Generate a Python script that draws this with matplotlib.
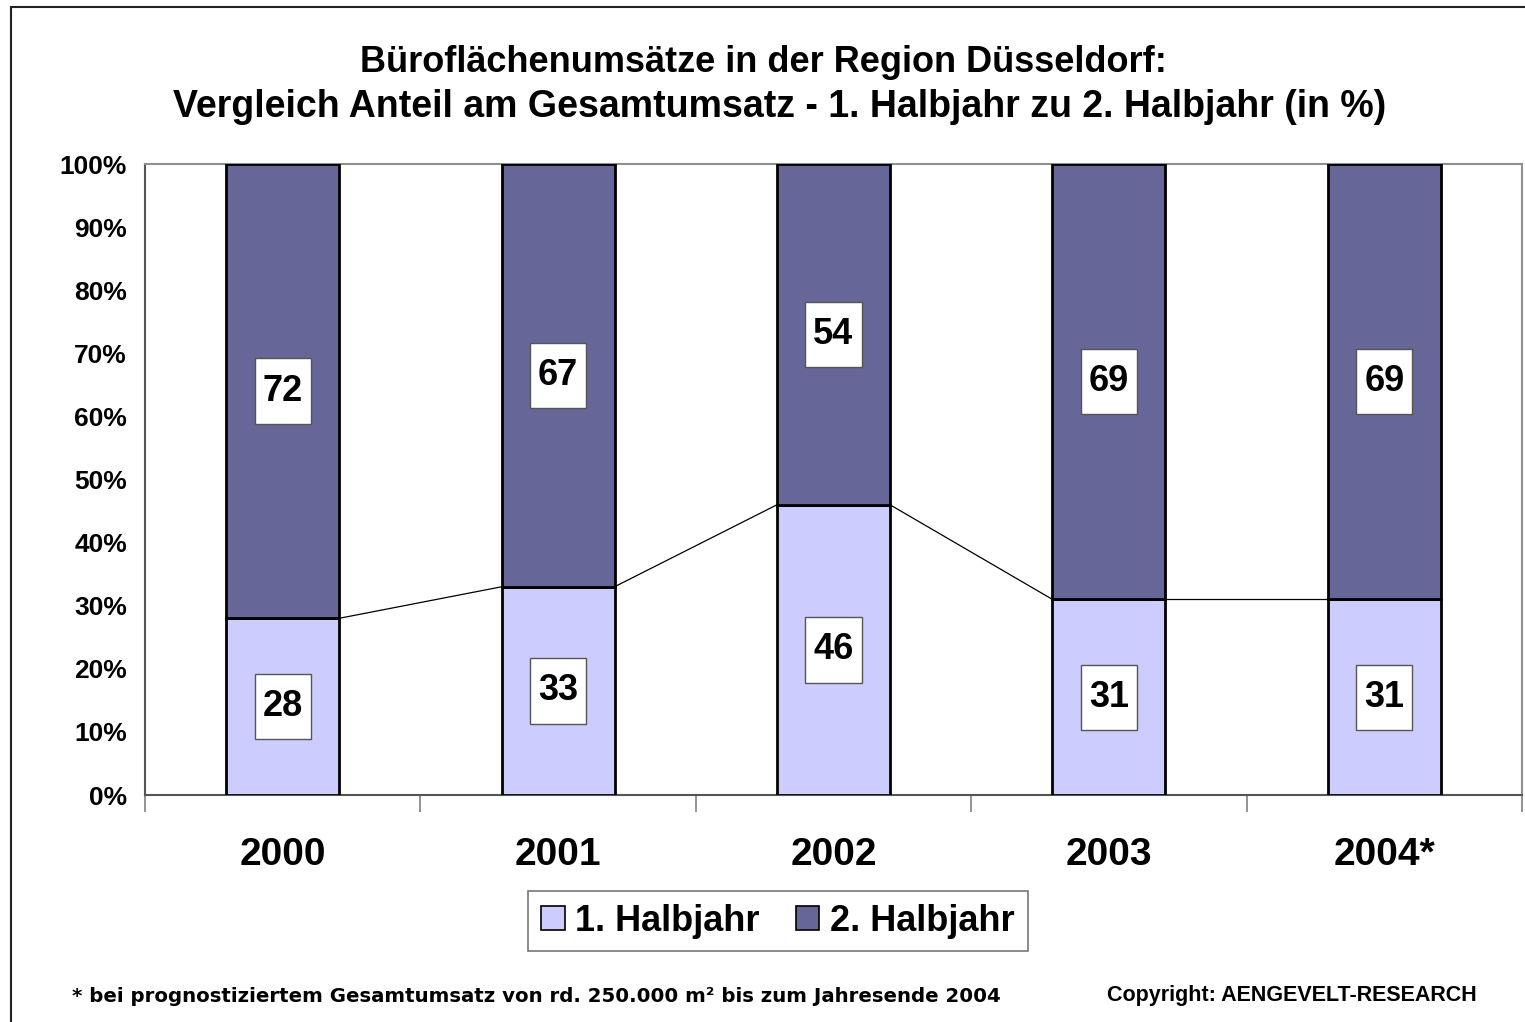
import matplotlib
matplotlib.use("Agg")
import matplotlib.pyplot as plt
import matplotlib.patches as patches
from matplotlib.path import Path
import numpy as np

plt.rcParams['font.family'] = ['Liberation Sans', 'DejaVu Sans']
plt.rcParams['font.weight'] = 'bold'

years = ['2000', '2001', '2002', '2003', '2004*']
first_half = [28, 33, 46, 31, 31]
second_half = [72, 67, 54, 69, 69]
series_names = ['1. Halbjahr', '2. Halbjahr']
yticks = [0, 10, 20, 30, 40, 50, 60, 70, 80, 90, 100]

c1 = '#CCCCFF'
c2 = '#666699'


def label_box(x0, y0, width, height, mutation_size):
    # white label box, taller than wide padding like the Excel data labels
    px = 0.22 * mutation_size
    py = 0.42 * mutation_size
    x0, x1 = x0 - px, x0 + width + px
    y0, y1 = y0 - py, y0 + height + py
    return Path([(x0, y0), (x1, y0), (x1, y1), (x0, y1), (x0, y0)], closed=True)


fig = plt.figure(figsize=(15.25, 10.22), dpi=100)
ax = fig.add_axes([145 / 1525, 1 - 795 / 1022, (1522 - 145) / 1525, (795 - 164) / 1022])

x = np.arange(len(years))
w = 0.41
first = np.array(first_half)
second = np.array(second_half)
b1 = ax.bar(x, first, w, color=c1, edgecolor='black', linewidth=2, label=series_names[0], zorder=3)
b2 = ax.bar(x, second, w, bottom=first, color=c2, edgecolor='black', linewidth=2, label=series_names[1], zorder=3)

# series lines between the tops of the first segment
for i in range(len(x) - 1):
    ax.plot([x[i] + w / 2, x[i + 1] - w / 2], [first[i], first[i + 1]],
            color='black', linewidth=0.9, zorder=2)

box = dict(boxstyle=label_box, facecolor='white', edgecolor='#555555', linewidth=1)
for i in range(len(x)):
    ax.text(x[i], first[i] / 2, str(first_half[i]), ha='center', va='center',
            fontsize=26, fontweight='bold', bbox=box, zorder=5)
    ax.text(x[i], first[i] + second[i] / 2, str(second_half[i]), ha='center', va='center',
            fontsize=26, fontweight='bold', bbox=box, zorder=5)

ax.set_xlim(-0.5, len(years) - 0.5)
ax.set_ylim(0, 100)
ax.set_yticks(yticks)
ax.set_yticklabels([f'{v}%' for v in yticks], fontsize=19, fontweight='bold')
ax.tick_params(axis='y', length=0, pad=13)

ax.set_xticks(x)
ax.set_xticklabels(years, fontsize=28, fontweight='bold')
ax.tick_params(axis='x', length=0, pad=30)
ax.set_xticks(np.arange(-0.5, len(years)), minor=True)
ax.tick_params(axis='x', which='minor', length=12, width=1.2, color='#808080', direction='out')

for s in ['top', 'right']:
    ax.spines[s].set_color('#909090')
    ax.spines[s].set_linewidth(1.5)
for s in ['left', 'bottom']:
    ax.spines[s].set_color('#555555')
    ax.spines[s].set_linewidth(1.5)

fig.text(763 / 1525, 1 - 62 / 1022, 'Büroflächenumsätze in der Region Düsseldorf:',
         ha='center', va='center', fontsize=26, fontweight='bold')
fig.text(780 / 1525, 1 - 107 / 1022,
         'Vergleich Anteil am Gesamtumsatz - 1. Halbjahr zu 2. Halbjahr (in %)',
         ha='center', va='center', fontsize=27, fontweight='bold')

leg = fig.legend(handles=[b1, b2], loc='center', bbox_to_anchor=(778 / 1525, 1 - 921 / 1022),
                 ncol=2, frameon=True, fancybox=False, handlelength=0.65,
                 handleheight=0.65, handletextpad=0.3, columnspacing=1.0, borderpad=0.35,
                 prop={'weight': 'bold', 'size': 26})
leg.get_frame().set_edgecolor('#555555')
leg.get_frame().set_linewidth(1.2)
for h in leg.legend_handles:
    h.set_linewidth(1.2)

fig.text(72 / 1525, 1 - 996 / 1022,
         '* bei prognostiziertem Gesamtumsatz von rd. 250.000 m² bis zum Jahresende 2004',
         ha='left', va='center', fontsize=14.2, fontweight='bold', family='DejaVu Sans')
fig.text(1477 / 1525, 1 - 996 / 1022, 'Copyright: AENGEVELT-RESEARCH',
         ha='right', va='center', fontsize=15.5, fontweight='bold')

border = patches.Rectangle((11 / 1525, -0.02), 1.0, 1 - 7 / 1022 + 0.02, transform=fig.transFigure,
                           fill=False, edgecolor='#222222', linewidth=1.5, clip_on=False)
fig.patches.append(border)

fig.savefig('out.png', dpi=100)
